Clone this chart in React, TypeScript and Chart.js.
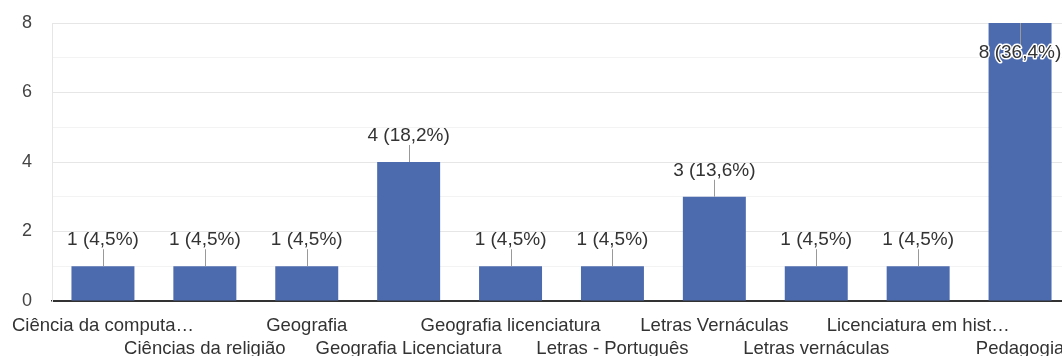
import React, { useEffect, useRef } from "react";
import { Chart, registerables } from "chart.js";

Chart.register(...registerables);

// Courses (as displayed, long names shortened with an ellipsis)
const categories = [
  "Ciência da computa…",
  "Ciências da religião",
  "Geografia",
  "Geografia Licenciatura",
  "Geografia licenciatura",
  "Letras - Português",
  "Letras Vernáculas",
  "Letras vernáculas",
  "Licenciatura em hist…",
  "Pedagogia",
];

// Number of answers per course
const counts = [1, 1, 1, 4, 1, 1, 3, 1, 1, 8];

const yMax = 8;
const yStep = 1;

const FONT = "'Liberation Sans', Arial, sans-serif";
const BAR_COLOR = "#4c6aae";

const total = counts.reduce((a, b) => a + b, 0);
const fmtLabel = (v: number) =>
  `${v} (${((v / total) * 100).toFixed(1).replace(".", ",")}%)`;

// Alternate the category labels over two rows so they don't overlap
const tickLabels = categories.map((c, i) => (i % 2 === 0 ? [c] : ["", c]));

// Keep the plot area fixed: don't let tick labels push the edges inwards
const noLabelPadding = (scale: any) => {
  scale.paddingTop = 0;
  scale.paddingBottom = 0;
  scale.paddingLeft = 0;
  scale.paddingRight = 0;
};

const valueLabels = {
  id: "valueLabels",
  afterDatasetsDraw(chart: any) {
    const { ctx } = chart;
    const meta = chart.getDatasetMeta(0);
    ctx.save();
    ctx.font = `19px ${FONT}`;
    ctx.textAlign = "center";
    ctx.textBaseline = "middle";
    meta.data.forEach((bar: any, i: number) => {
      const v = counts[i];
      const x = bar.x;
      const top = bar.y;
      const text = fmtLabel(v);
      const outside = top - 40 >= 0;
      let lineEnd: number;
      let textY: number;
      if (outside) {
        lineEnd = top - 17;
        textY = top - 26;
      } else {
        lineEnd = top + 22;
        textY = top + 30;
      }
      ctx.strokeStyle = "#999";
      ctx.lineWidth = 1;
      ctx.beginPath();
      ctx.moveTo(Math.round(x) + 0.5, top);
      ctx.lineTo(Math.round(x) + 0.5, lineEnd);
      ctx.stroke();
      if (!outside) {
        ctx.strokeStyle = "#fff";
        ctx.lineWidth = 3;
        ctx.lineJoin = "round";
        ctx.strokeText(text, x, textY);
      }
      ctx.fillStyle = "#333";
      ctx.fillText(text, x, textY);
    });
    ctx.restore();
  },
};

export default function App() {
  const ref = useRef<HTMLCanvasElement | null>(null);

  useEffect(() => {
    if (!ref.current) return;
    const chart = new Chart(ref.current, {
      type: "bar",
      data: {
        labels: tickLabels as any,
        datasets: [
          {
            data: counts,
            backgroundColor: BAR_COLOR,
            categoryPercentage: 1,
            barPercentage: 0.618,
          },
        ],
      },
      options: {
        responsive: false,
        animation: false,
        layout: { padding: { top: 23, right: 0, left: 0, bottom: 0 } },
        plugins: {
          legend: { display: false },
          tooltip: { enabled: false },
        },
        scales: {
          x: {
            grid: { display: false, drawTicks: false, tickLength: 0 },
            border: { display: true, color: "#333", width: 1.5 },
            ticks: {
              autoSkip: false,
              maxRotation: 0,
              minRotation: 0,
              padding: 13,
              color: "#333",
              font: { family: FONT, size: 18.5, lineHeight: "23px" },
            },
            afterFit(scale: any) {
              scale.height = 55;
              noLabelPadding(scale);
            },
          },
          y: {
            min: 0,
            max: yMax,
            grid: {
              drawTicks: false,
              tickLength: 0,
              color: (c: any) =>
                c.tick.value === 0
                  ? "#333"
                  : c.tick.value % 2 === 0
                  ? "#e6e6e6"
                  : "#f3f3f3",
            },
            border: { display: true, color: "#e6e6e6", width: 1 },
            ticks: {
              stepSize: yStep,
              padding: 20,
              color: "#444",
              font: { family: FONT, size: 18 },
              callback: (v: any) => (Number(v) % 2 === 0 ? String(v) : ""),
            },
            afterFit(scale: any) {
              scale.width = 52;
              noLabelPadding(scale);
            },
          },
        },
      },
      plugins: [valueLabels],
    });
    return () => chart.destroy();
  }, []);

  return (
    <div
      style={{
        position: "fixed",
        left: 0,
        top: 0,
        width: "100vw",
        height: "100vh",
        overflow: "hidden",
        background: "#fff",
      }}
    >
      <canvas
        ref={ref}
        width={1071}
        height={356}
        style={{ width: 1071, height: 356, display: "block" }}
      />
    </div>
  );
}
